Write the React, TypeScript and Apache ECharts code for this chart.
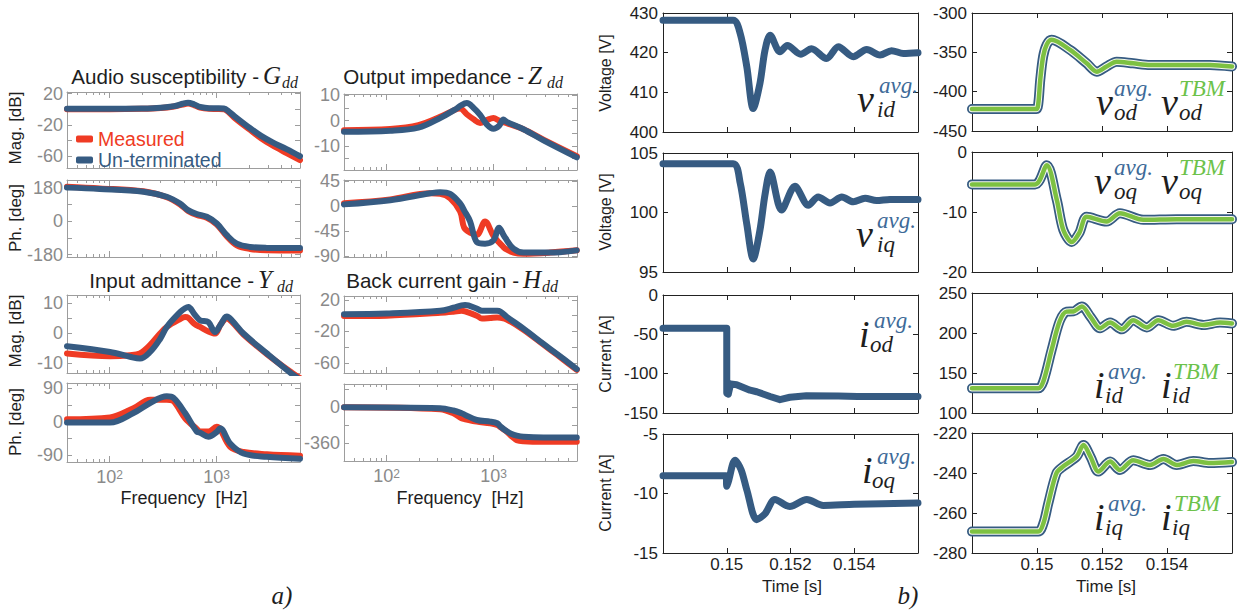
import React, { useEffect, useRef } from 'react';
import * as echarts from 'echarts';

const BLUE = '#365b82';
const RED = '#ef3b24';
const GREEN = '#7dc142';
const FRAME_GREY = '#9d9d9d';
const TICK_GREY = '#8a8a8a';
const INK = '#1e1e1e';
const SANS = '"Liberation Sans", Arial, sans-serif';
const SERIF = '"Liberation Serif", "Times New Roman", serif';

// ---------------- Bode data (frequency [Hz]) ----------------
const gddFreq = [40, 100, 200, 300, 400, 480, 540, 620, 700, 850, 1000, 1170, 1300, 1500, 2040, 2600, 3300, 4500, 6000];
const gddMagMeasured = [0, 0, 0.5, 1.5, 3.5, 6, 7.2, 5, 2, 0.5, 0.3, 0, -4, -12, -26, -37, -46, -56, -65];
const gddMagUnterminated = [0.5, 0.5, 1, 2, 4, 7, 8.4, 6, 3, 1.3, 1.2, 1, -3, -10, -24, -34, -42, -51, -60];
const gddPhFreq = [40, 81, 207, 342, 455, 540, 652, 809, 1003, 1245, 1543, 2055, 2941, 6000];
const gddPhMeasured = [185, 176, 160, 128, 90, 55, 33, 18, -18, -82, -130, -150, -157, -158];
const gddPhUnterminated = [180, 173, 158, 131, 95, 59, 38, 23, -13, -76, -121, -139, -144, -145];

const zddFreq = [40, 108, 198, 316, 452, 486, 561, 650, 747, 862, 995, 1124, 1233, 1326, 1898, 2918, 5970];
const zddMagMeasured = [-3.8, -3.3, -1.8, 1.5, 4.6, 4.8, 2.5, 0.5, -0.9, 0.2, 1, 0, -0.6, -1, -3.4, -7.5, -14];
const zddMagUnterminated = [-4.4, -4, -2.8, 1, 4.8, 5.8, 6.9, 5, 2.3, -1.5, -3.2, -2, 0.4, -0.5, -3.4, -7.8, -14.5];
const zddPhFreq = [40, 108, 255, 316, 392, 486, 530, 602, 695, 830, 995, 1124, 1233, 1278, 1529, 1898, 3368, 5970];
const zddPhMeasured = [5, 12, 23, 22, 14, -10, -39, -48, -52, -28, -54, -66, -74, -77, -84, -86, -84, -80];
const zddPhUnterminated = [3, 10.5, 23, 25, 22, 4.7, -8, -27.5, -65, -68, -62, -39, -52, -57, -77, -84, -84, -80];

const yddFreq = [40, 101, 155, 192, 239, 296, 342, 455, 507, 544, 620, 700, 837, 967, 1077, 1200, 1244, 1400, 1779, 2940, 5030, 6000];
const yddMagMeasured = [-6.8, -7.7, -7.4, -6.8, -4, -0.2, 2, 4.6, 5.3, 5, 3, 2, 0.5, -0.2, 2.5, 4.7, 4.8, 3.5, -0.5, -7, -13.2, -15];
const yddMagUnterminated = [-4.4, -6.3, -7.9, -8.5, -6.3, -2, 2, 6.9, 8.2, 8.6, 6.2, 4.2, 3.6, 0.3, 2.5, 5.2, 5.5, 4, -0.2, -6.8, -13.6, -15.5];
const yddPhFreq = [40, 101, 167, 239, 342, 394, 507, 652, 700, 837, 1002, 1077, 1336, 1779, 2940, 6000];
const yddPhMeasured = [6, 11, 36, 59, 59, 55, 9, -20, -27, -27, -14, -20, -68, -82, -88, -92];
const yddPhUnterminated = [-2.7, -2.7, 23, 50, 68, 64, 23, -27, -30, -41, -28, -18, -59, -86, -95, -100];

const hddFreq = [40, 100, 316, 420, 502, 541, 695, 777, 932, 1078, 1160, 1326, 1898, 2918, 3920, 5970];
const hddMagMeasured = [-0.6, 0, 3.6, 5, 6.2, 5.5, 0, -3.7, -3, -2.4, -2.8, -5, -18, -37, -50, -69];
const hddMagUnterminated = [1.9, 2.8, 6.2, 10, 13, 13.5, 9, 6.2, 6.2, 6.2, 5, -1.5, -16.6, -36, -49, -68];
const hddPhFreq = [40, 316, 420, 502, 541, 695, 932, 1078, 1160, 1326, 1476, 1644, 1898, 2918, 5970];
const hddPhMeasured = [0, -20, -60, -110, -120, -143, -160, -177, -200, -243, -290, -327, -338, -343, -343];
const hddPhUnterminated = [0, -10, -33, -60, -77, -127, -143, -160, -193, -240, -267, -282, -293, -300, -300];

const MAJOR_FREQ_TICKS = [100, 1000];
const MINOR_FREQ_TICKS = [50, 60, 70, 80, 90, 200, 300, 400, 500, 600, 700, 800, 900, 2000, 3000, 4000, 5000];

// ---------------- Time-domain data (time [s]) ----------------
const vidTime = [0.148, 0.1502, 0.15042, 0.15063, 0.15083, 0.15104, 0.1512, 0.15136, 0.15167, 0.1519, 0.15232, 0.15266, 0.15313, 0.1535, 0.15397, 0.15439, 0.15481, 0.15517, 0.15554, 0.156];
const vidAvg = [428.2, 428.2, 424.9, 416.4, 405.9, 412.2, 420.6, 424.4, 420.2, 421.8, 419.6, 421, 418.5, 421.5, 419, 420.8, 419.4, 420.5, 419.8, 420];

const viqTime = [0.148, 0.1502, 0.15042, 0.15063, 0.15083, 0.15104, 0.1512, 0.15136, 0.15172, 0.15214, 0.15256, 0.15287, 0.15324, 0.15361, 0.15397, 0.15434, 0.1547, 0.15512, 0.156];
const viqAvg = [104.1, 104.1, 102.5, 99, 96.1, 98.5, 101.5, 103.4, 100.2, 102.2, 100.6, 101.3, 100.8, 101.3, 100.9, 101.2, 101, 101.1, 101.1];

const iodTime = [0.148, 0.15, 0.15, 0.15005, 0.15012, 0.15031, 0.15073, 0.15094, 0.15136, 0.15167, 0.15198, 0.1525, 0.1535, 0.1541, 0.156];
const iodAvg = [-42.3, -42.3, -125, -126, -113, -114, -121, -123, -129, -133, -130, -128, -128.5, -129, -129];

const ioqTime = [0.148, 0.14998, 0.15, 0.15005, 0.15026, 0.15045, 0.15063, 0.15094, 0.1512, 0.15151, 0.15198, 0.15251, 0.15303, 0.154, 0.156];
const ioqAvg = [-8.5, -8.5, -9.4, -9, -7.2, -8, -9.7, -12.2, -11.7, -10.5, -11.1, -10.5, -11, -10.9, -10.8];

const vodTime = [0.148, 0.14998, 0.15004, 0.1501, 0.15019, 0.1503, 0.15045, 0.15102, 0.15153, 0.15184, 0.15214, 0.15245, 0.15296, 0.15348, 0.1543, 0.15532, 0.156];
const vodAvg = [-422, -422, -415, -385, -355, -340, -334, -347, -364, -374.6, -368, -362, -364, -366, -366, -366, -368];

const voqTime = [0.148, 0.14994, 0.1503, 0.15061, 0.15081, 0.15107, 0.1513, 0.15153, 0.15214, 0.15255, 0.15327, 0.1543, 0.156];
const voqAvg = [-5.4, -5.4, -2.2, -8, -13, -15, -13.5, -10.8, -11.6, -10.2, -11.3, -11.2, -11.2];

const iidTime = [0.148, 0.15004, 0.1502, 0.15045, 0.1507, 0.15091, 0.15112, 0.15138, 0.15165, 0.15194, 0.15225, 0.15261, 0.15296, 0.15338, 0.15373, 0.15419, 0.1546, 0.15512, 0.15563, 0.156];
const iidAvg = [130.8, 130.8, 140, 178.8, 215, 226.7, 227, 233, 220, 206, 213, 204.6, 216, 207, 216, 209, 214, 210, 213, 212];

const iiqTime = [0.148, 0.15004, 0.1502, 0.15035, 0.1506, 0.1508, 0.15122, 0.15143, 0.15165, 0.15189, 0.15225, 0.15255, 0.15296, 0.15348, 0.15389, 0.1543, 0.15481, 0.15532, 0.156];
const iiqAvg = [-269.3, -269.3, -265, -255, -240, -236.8, -231.8, -226, -232, -239.3, -234.3, -238.5, -233.6, -236, -233, -236, -234, -235, -234.5];

const pairs = (xs: number[], ys: number[]) => xs.map((x, i) => [x, ys[i]]);

type BodePanel = {
  box: number[]; min: number; max: number; labels: number[]; ticks: number[];
  meas: number[][]; unt: number[][]; xLabels: boolean;
};

const bodePanels: BodePanel[] = [
  { box: [67, 92, 233, 76], min: -75, max: 22, labels: [20, -20, -60], ticks: [20, 0, -20, -40, -60], meas: pairs(gddFreq, gddMagMeasured), unt: pairs(gddFreq, gddMagUnterminated), xLabels: false },
  { box: [67, 180, 233, 77], min: -193, max: 221, labels: [180, 0, -180], ticks: [180, 90, 0, -90, -180], meas: pairs(gddPhFreq, gddPhMeasured), unt: pairs(gddPhFreq, gddPhUnterminated), xLabels: false },
  { box: [344, 94, 233, 76], min: -19.5, max: 10.5, labels: [10, 0, -10], ticks: [10, 5, 0, -5, -10, -15], meas: pairs(zddFreq, zddMagMeasured), unt: pairs(zddFreq, zddMagUnterminated), xLabels: false },
  { box: [344, 180, 233, 77], min: -92, max: 47, labels: [45, 0, -45, -90], ticks: [45, 0, -45, -90], meas: pairs(zddPhFreq, zddPhMeasured), unt: pairs(zddPhFreq, zddPhUnterminated), xLabels: false },
  { box: [67, 295, 233, 78], min: -13.3, max: 12.6, labels: [10, 0, -10], ticks: [10, 5, 0, -5, -10], meas: pairs(yddFreq, yddMagMeasured), unt: pairs(yddFreq, yddMagUnterminated), xLabels: false },
  { box: [67, 383, 233, 79], min: -109, max: 104, labels: [90, 0, -90], ticks: [90, 45, 0, -45, -90], meas: pairs(yddPhFreq, yddPhMeasured), unt: pairs(yddPhFreq, yddPhUnterminated), xLabels: true },
  { box: [344, 296, 233, 77], min: -73, max: 25, labels: [20, -20, -60], ticks: [20, 0, -20, -40, -60], meas: pairs(hddFreq, hddMagMeasured), unt: pairs(hddFreq, hddMagUnterminated), xLabels: false },
  { box: [344, 384, 233, 77], min: -534, max: 230, labels: [0, -360], ticks: [180, 0, -180, -360], meas: pairs(hddPhFreq, hddPhMeasured), unt: pairs(hddPhFreq, hddPhUnterminated), xLabels: true },
];

type TimePanel = { box: number[]; min: number; max: number; interval: number; data: number[][]; tbm: boolean; xLabels: boolean };

const timePanels: TimePanel[] = [
  { box: [663, 13, 255, 119], min: 400, max: 430, interval: 10, data: pairs(vidTime, vidAvg), tbm: false, xLabels: false },
  { box: [663, 153, 255, 119], min: 95, max: 105, interval: 5, data: pairs(viqTime, viqAvg), tbm: false, xLabels: false },
  { box: [663, 295, 255, 118], min: -150, max: 0, interval: 50, data: pairs(iodTime, iodAvg), tbm: false, xLabels: false },
  { box: [663, 434, 255, 119], min: -15, max: -5, interval: 5, data: pairs(ioqTime, ioqAvg), tbm: false, xLabels: true },
  { box: [972, 13, 260, 118], min: -450, max: -300, interval: 50, data: pairs(vodTime, vodAvg), tbm: true, xLabels: false },
  { box: [972, 152, 260, 120], min: -20, max: 0, interval: 10, data: pairs(voqTime, voqAvg), tbm: true, xLabels: false },
  { box: [972, 293, 260, 120], min: 100, max: 250, interval: 50, data: pairs(iidTime, iidAvg), tbm: true, xLabels: false },
  { box: [972, 433, 260, 120], min: -280, max: -220, interval: 20, data: pairs(iiqTime, iiqAvg), tbm: true, xLabels: true },
];

type Part = { t: string; x: number; base: number; size: number; color?: string; serif?: boolean; italic?: boolean; align?: string };

function textEl(p: Part) {
  const family = p.serif ? SERIF : SANS;
  return {
    type: 'text', x: p.x, y: p.base - 0.34 * p.size, silent: true, z: 100,
    style: {
      text: p.t, fill: p.color || INK,
      font: `${p.italic ? 'italic ' : ''}${p.size}px ${family}`,
      align: p.align || 'left', verticalAlign: 'middle',
    },
  };
}

function centered(t: string, x: number, y: number, size: number, rot = 0, opts: { color?: string; serif?: boolean; italic?: boolean } = {}) {
  return {
    type: 'text', x, y, rotation: rot, silent: true, z: 100,
    style: {
      text: t, fill: opts.color || INK,
      font: `${opts.italic ? 'italic ' : ''}${size}px ${opts.serif ? SERIF : SANS}`,
      align: 'center', verticalAlign: 'middle',
    },
  };
}

function title(text: string, letter: string, letterX: number, base: number): Part[] {
  return [
    { t: text, x: letterX - 4, base, size: 20.6, align: 'right' },
    { t: letter, x: letterX, base, size: 25, serif: true, italic: true },
    { t: 'dd', x: letterX + 19, base: base + 4, size: 16, serif: true, italic: true },
  ];
}

function mathLabel(x: number, base: number, main: string, sub: string, sup: string, supColor: string, subDx: number, supDx: number): Part[] {
  return [
    { t: main, x, base, size: 38, serif: true, italic: true },
    { t: sub, x: x + subDx, base: base + 5, size: 23, serif: true, italic: true },
    { t: sup, x: x + supDx, base: base - 19, size: 23, serif: true, italic: true, color: supColor },
  ];
}

const AVG_BLUE = '#3d6a98';
const TBM_GREEN = '#6cc24a';

function buildOption() {
  const grid: any[] = [];
  const xAxis: any[] = [];
  const yAxis: any[] = [];
  const series: any[] = [];

  bodePanels.forEach((p) => {
    grid.push({ left: p.box[0], top: p.box[1], width: p.box[2], height: p.box[3], containLabel: false });
    const gi = grid.length - 1;
    const base = { gridIndex: gi, type: 'log', logBase: 10, min: 40, max: 6000, splitLine: { show: false } };
    const line = { show: true, onZero: false, lineStyle: { color: FRAME_GREY, width: 1 } };
    const noLine = { show: false, onZero: false };
    xAxis.push({
      ...base, position: 'bottom', axisLine: line,
      axisTick: { show: true, inside: true, length: 6, customValues: MAJOR_FREQ_TICKS, lineStyle: { color: FRAME_GREY } },
      axisLabel: {
        show: p.xLabels, customValues: MAJOR_FREQ_TICKS, margin: 7,
        formatter: (v: number) => `{b|10}{s|${Math.round(Math.log10(v))}}`,
        rich: {
          b: { fontSize: 18, lineHeight: 17, color: TICK_GREY, fontFamily: SANS, padding: [5, 0, 0, 0], verticalAlign: 'bottom' },
          s: { fontSize: 12, lineHeight: 12, color: TICK_GREY, fontFamily: SANS, verticalAlign: 'top' },
        },
      },
    });
    const xMain = xAxis.length - 1;
    xAxis.push({ ...base, position: 'bottom', axisLine: noLine, axisLabel: { show: false },
      axisTick: { show: true, inside: true, length: 3, customValues: MINOR_FREQ_TICKS, lineStyle: { color: FRAME_GREY } } });
    xAxis.push({ ...base, position: 'top', axisLine: line, axisLabel: { show: false },
      axisTick: { show: true, inside: true, length: 6, customValues: MAJOR_FREQ_TICKS, lineStyle: { color: FRAME_GREY } } });
    xAxis.push({ ...base, position: 'top', axisLine: noLine, axisLabel: { show: false },
      axisTick: { show: true, inside: true, length: 3, customValues: MINOR_FREQ_TICKS, lineStyle: { color: FRAME_GREY } } });

    yAxis.push({
      gridIndex: gi, type: 'value', min: p.min, max: p.max, position: 'left', splitLine: { show: false }, axisLine: line,
      axisTick: { show: true, inside: true, length: 5, customValues: p.ticks, lineStyle: { color: FRAME_GREY } },
      axisLabel: { show: true, customValues: p.labels, color: TICK_GREY, fontSize: 18, fontFamily: SANS, margin: 4 },
    });
    const yMain = yAxis.length - 1;
    yAxis.push({
      gridIndex: gi, type: 'value', min: p.min, max: p.max, position: 'right', splitLine: { show: false }, axisLine: line,
      axisTick: { show: true, inside: true, length: 5, customValues: p.ticks, lineStyle: { color: FRAME_GREY } },
      axisLabel: { show: false },
    });

    series.push({
      type: 'line', name: 'Measured', xAxisIndex: xMain, yAxisIndex: yMain, data: p.meas,
      showSymbol: false, symbol: 'none', smooth: 0.35, z: 2,
      lineStyle: { color: RED, width: 6, cap: 'round', join: 'round' }, itemStyle: { color: RED },
    });
    series.push({
      type: 'line', name: 'Un-terminated', xAxisIndex: xMain, yAxisIndex: yMain, data: p.unt,
      showSymbol: false, symbol: 'none', smooth: 0.35, z: 3,
      lineStyle: { color: BLUE, width: 6, cap: 'round', join: 'round' }, itemStyle: { color: BLUE },
    });
  });

  timePanels.forEach((p, idx) => {
    grid.push({ left: p.box[0], top: p.box[1], width: p.box[2], height: p.box[3], containLabel: false });
    const gi = grid.length - 1;
    const line = { show: true, onZero: false, lineStyle: { color: '#222', width: 1 } };
    const base = { gridIndex: gi, type: 'value', min: 0.148, max: 0.156, interval: 0.002, splitLine: { show: false } };
    xAxis.push({
      ...base, position: 'bottom', axisLine: line,
      axisTick: { show: true, inside: true, length: 5, lineStyle: { color: '#222' } },
      axisLabel: { show: p.xLabels, showMinLabel: false, showMaxLabel: false, color: INK, fontSize: 17, fontFamily: SANS, margin: 3,
        formatter: (v: number) => String(parseFloat(v.toFixed(4))) },
    });
    const xMain = xAxis.length - 1;
    xAxis.push({ ...base, position: 'top', axisLine: line, axisLabel: { show: false },
      axisTick: { show: true, inside: true, length: 5, lineStyle: { color: '#222' } } });
    yAxis.push({
      gridIndex: gi, type: 'value', min: p.min, max: p.max, interval: p.interval, position: 'left', splitLine: { show: false }, axisLine: line,
      axisTick: { show: true, inside: true, length: 5, lineStyle: { color: '#222' } },
      axisLabel: { show: true, color: INK, fontSize: 17, fontFamily: SANS, margin: 5 },
    });
    const yMain = yAxis.length - 1;
    yAxis.push({
      gridIndex: gi, type: 'value', min: p.min, max: p.max, interval: p.interval, position: 'right', splitLine: { show: false }, axisLine: line,
      axisTick: { show: true, inside: true, length: 5, lineStyle: { color: '#222' } }, axisLabel: { show: false },
    });
    const smooth = idx === 2 ? false : 0.3;
    series.push({
      type: 'line', name: 'avg' + idx, xAxisIndex: xMain, yAxisIndex: yMain, data: p.data, showSymbol: false, symbol: 'none', smooth, z: 2,
      lineStyle: { color: BLUE, width: p.tbm ? 10 : 7, cap: 'round', join: 'round' },
    });
    if (p.tbm) {
      series.push({
        type: 'line', name: 'sep' + idx, xAxisIndex: xMain, yAxisIndex: yMain, data: p.data, showSymbol: false, symbol: 'none', smooth, z: 3,
        lineStyle: { color: '#f4f7ee', width: 6.5, cap: 'round', join: 'round' }, silent: true,
      });
      series.push({
        type: 'line', name: 'TBM' + idx, xAxisIndex: xMain, yAxisIndex: yMain, data: p.data, showSymbol: false, symbol: 'none', smooth, z: 4,
        lineStyle: { color: GREEN, width: 4.5, cap: 'round', join: 'round' },
      });
    }
  });

  const parts: Part[] = [
    ...title('Audio susceptibility -', 'G', 263, 84),
    ...title('Output impedance -', 'Z', 528, 84),
    ...title('Input admittance -', 'Y', 258, 288),
    ...title('Back current gain -', 'H', 523, 288),
    // math annotations
    ...mathLabel(857, 112, 'v', 'id', 'avg.', AVG_BLUE, 20, 22),
    ...mathLabel(856, 247, 'v', 'iq', 'avg.', AVG_BLUE, 21, 21),
    ...mathLabel(859, 347, 'i', 'od', 'avg.', AVG_BLUE, 11, 15),
    ...mathLabel(862, 483, 'i', 'oq', 'avg.', AVG_BLUE, 10, 15),
    ...mathLabel(1096, 115, 'v', 'od', 'avg.', AVG_BLUE, 18, 18),
    ...mathLabel(1161, 115, 'v', 'od', 'TBM', TBM_GREEN, 18, 18),
    ...mathLabel(1094, 194, 'v', 'oq', 'avg.', AVG_BLUE, 20, 20),
    ...mathLabel(1161, 194, 'v', 'oq', 'TBM', TBM_GREEN, 18, 18),
    ...mathLabel(1094, 398, 'i', 'id', 'avg.', AVG_BLUE, 11, 14),
    ...mathLabel(1161, 398, 'i', 'id', 'TBM', TBM_GREEN, 11, 12),
    ...mathLabel(1094, 530, 'i', 'iq', 'avg.', AVG_BLUE, 11, 14),
    ...mathLabel(1161, 530, 'i', 'iq', 'TBM', TBM_GREEN, 11, 13),
  ];

  const graphics: any[] = parts.map(textEl);
  graphics.push(
    centered('Mag. [dB]', 15, 128, 17, Math.PI / 2),
    centered('Ph. [deg]', 15, 218, 17, Math.PI / 2),
    centered('Mag. [dB]', 15, 331, 17, Math.PI / 2),
    centered('Ph. [deg]', 15, 422, 17, Math.PI / 2),
    centered('Frequency  [Hz]', 184, 498, 18),
    centered('Frequency  [Hz]', 460, 498, 18),
    centered('Voltage [V]', 605, 73, 16, Math.PI / 2),
    centered('Voltage [V]', 605, 212, 16, Math.PI / 2),
    centered('Current [A]', 605, 354, 16, Math.PI / 2),
    centered('Current [A]', 605, 493, 16, Math.PI / 2),
    centered('Time [s]', 792, 586, 17),
    centered('Time [s]', 1106, 586, 17),
    centered('a)', 282, 595, 25, 0, { serif: true, italic: true }),
    centered('b)', 908, 595, 25, 0, { serif: true, italic: true }),
  );

  return {
    animation: false,
    backgroundColor: '#ffffff',
    grid, xAxis, yAxis, series,
    legend: {
      data: [
        { name: 'Measured', textStyle: { color: RED } },
        { name: 'Un-terminated', textStyle: { color: BLUE } },
      ],
      orient: 'vertical', left: 71, top: 124, itemWidth: 17, itemHeight: 7, itemGap: 1,
      icon: 'roundRect', selectedMode: false,
      textStyle: { fontSize: 19.5, fontFamily: SANS },
    },
    graphic: graphics,
  };
}

export default function App() {
  const ref = useRef<HTMLDivElement>(null);
  useEffect(() => {
    if (!ref.current) return;
    const chart = echarts.init(ref.current, undefined, { renderer: 'svg' });
    chart.setOption(buildOption() as any);
    return () => chart.dispose();
  }, []);
  return (
    <div
      ref={ref}
      style={{ position: 'fixed', left: 0, top: 0, width: 1241, height: 610, background: '#fff' }}
    />
  );
}
